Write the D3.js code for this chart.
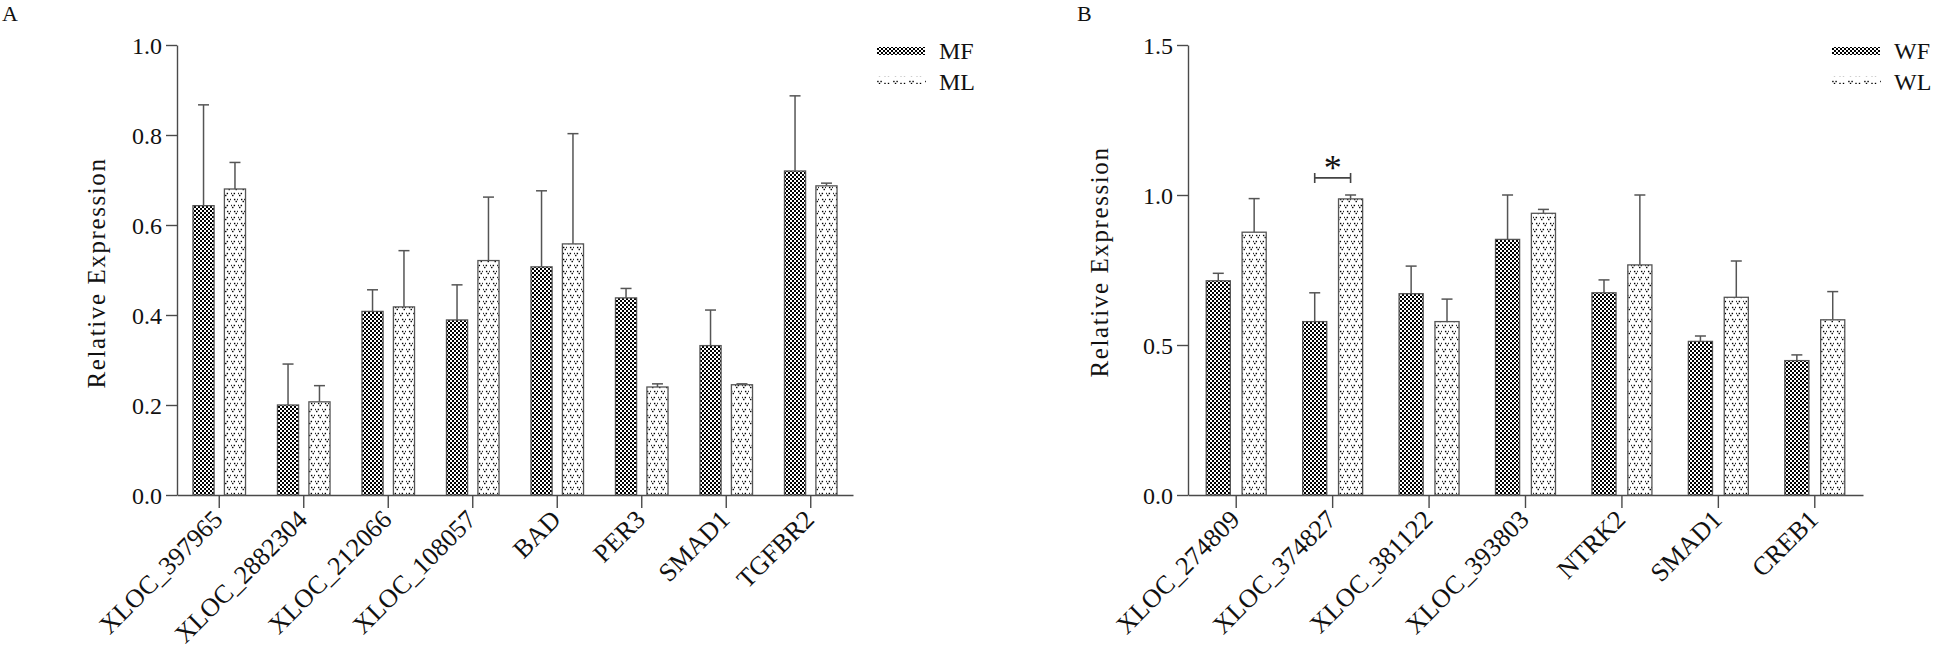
<!DOCTYPE html>
<html>
<head>
<meta charset="utf-8">
<script src="https://cdn.jsdelivr.net/npm/d3@7"></script>
<style>
  html, body { margin: 0; padding: 0; background: #fff; }
  svg text { font-family: "Liberation Serif", "DejaVu Serif", serif; fill: #111; }
</style>
</head>
<body>
<svg id="chart" width="1946" height="652"></svg>
<script>
// panel A data
const genesA = ["XLOC_397965", "XLOC_2882304", "XLOC_212066", "XLOC_108057", "BAD", "PER3", "SMAD1", "TGFBR2"];
const mfA = [0.643, 0.200, 0.408, 0.389, 0.507, 0.438, 0.332, 0.720];
const mfErrA = [0.224, 0.091, 0.048, 0.078, 0.169, 0.021, 0.079, 0.167];
const mlA = [0.680, 0.207, 0.418, 0.521, 0.558, 0.240, 0.245, 0.687];
const mlErrA = [0.059, 0.036, 0.125, 0.141, 0.245, 0.007, 0.002, 0.006];
const seriesA = ["MF", "ML"];
const ticksA = [0, 0.2, 0.4, 0.6, 0.8, 1.0];

// panel B data
const genesB = ["XLOC_274809", "XLOC_374827", "XLOC_381122", "XLOC_393803", "NTRK2", "SMAD1", "CREB1"];
const wfB = [0.714, 0.578, 0.671, 0.852, 0.674, 0.512, 0.448];
const wfErrB = [0.025, 0.096, 0.092, 0.148, 0.043, 0.018, 0.019];
const wlB = [0.876, 0.987, 0.578, 0.939, 0.767, 0.659, 0.584];
const wlErrB = [0.112, 0.013, 0.075, 0.013, 0.233, 0.121, 0.094];
const seriesB = ["WF", "WL"];
const ticksB = [0, 0.5, 1.0, 1.5];
const sigB = [{ gene: "XLOC_374827", level: 1.057, label: "*" }];

const svg = d3.select("#chart");
const axisColor = "#4a4a4a";
const serif = "Liberation Serif";

// fill patterns
const defs = svg.append("defs");
const checker = defs.append("pattern").attr("id", "checker")
  .attr("patternUnits", "userSpaceOnUse").attr("width", 4).attr("height", 4);
checker.append("rect").attr("width", 4).attr("height", 4).attr("fill", "#fff");
checker.append("rect").attr("width", 2).attr("height", 2).attr("fill", "#000");
checker.append("rect").attr("x", 2).attr("y", 2).attr("width", 2).attr("height", 2).attr("fill", "#000");

// little "v" marks, staggered rows
const vee = defs.append("pattern").attr("id", "vee")
  .attr("patternUnits", "userSpaceOnUse").attr("width", 7).attr("height", 12);
vee.append("rect").attr("width", 7).attr("height", 12).attr("fill", "#fff");
const veeDots = [[-1.6, -1], [1.6, -1], [0, 1]];
[[1.75, 2.5], [5.25, 8.5]].forEach(([cx, cy]) => {
  veeDots.forEach(([dx, dy]) => {
    vee.append("rect").attr("x", cx + dx - 0.7).attr("y", cy + dy - 0.7)
      .attr("width", 1.4).attr("height", 1.4).attr("fill", "#000");
  });
});

// legend strip for the v series
const veeLine = defs.append("pattern").attr("id", "veeLine")
  .attr("patternUnits", "userSpaceOnUse").attr("width", 16).attr("height", 8);
veeDots.forEach(([dx, dy]) => {
  veeLine.append("rect").attr("x", 2.5 + dx - 0.7).attr("y", 2.5 + dy - 0.7)
    .attr("width", 1.4).attr("height", 1.4).attr("fill", "#000");
});
[8, 11.5].forEach(dx => {
  veeLine.append("rect").attr("x", dx - 0.7).attr("y", 3.5 - 0.7)
    .attr("width", 1.4).attr("height", 1.4).attr("fill", "#000");
});

function panel(opt) {
  const g = svg.append("g");
  const x = d3.scaleBand().domain(opt.genes).range(opt.xRange).paddingInner(0).paddingOuter(0);
  const y = d3.scaleLinear().domain(opt.yDomain).range([495, 45]);
  const bw = x.bandwidth();
  const off = d3.scalePoint().domain(opt.series).range([-0.186 * bw, 0.186 * bw]);
  const barW = 0.25 * bw;
  const fills = ["url(#checker)", "url(#vee)"];

  // y axis
  const ya = g.append("g").attr("transform", `translate(${opt.xRange[0]},0)`)
    .call(d3.axisLeft(y).tickValues(opt.yTicks).tickFormat(d3.format(".1f")).tickSize(11).tickSizeOuter(0).tickPadding(4));
  ya.attr("font-family", serif);
  ya.selectAll("path, line").attr("stroke", axisColor).attr("stroke-width", 1.4);
  ya.selectAll("text").attr("font-size", 24).attr("fill", "#111").attr("dy", "0.36em");

  // x axis
  const xa = g.append("g").attr("transform", "translate(0,495)")
    .call(d3.axisBottom(x).tickSize(13).tickSizeOuter(0).tickFormat(""));
  xa.selectAll("path, line").attr("stroke", axisColor).attr("stroke-width", 1.4);

  g.selectAll(".xlab").data(opt.genes).join("text")
    .attr("class", "xlab")
    .attr("transform", d => `translate(${x(d) + bw / 2 + 5},${521}) rotate(-45)`)
    .attr("text-anchor", "end")
    .attr("font-size", 26)
    .text(d => d);

  // bars + error bars
  opt.series.forEach((s, si) => {
    const vals = opt.values[si], errs = opt.errors[si];
    const cx = i => x(opt.genes[i]) + bw / 2 + off(s);
    const sg = g.append("g");
    sg.selectAll("line.err").data(vals).join("line")
      .attr("x1", (d, i) => cx(i)).attr("x2", (d, i) => cx(i))
      .attr("y1", d => y(d)).attr("y2", (d, i) => y(d + errs[i]))
      .attr("stroke", "#555").attr("stroke-width", 1.5);
    sg.selectAll("line.cap").data(vals).join("line")
      .attr("x1", (d, i) => cx(i) - 5.5).attr("x2", (d, i) => cx(i) + 5.5)
      .attr("y1", (d, i) => y(d + errs[i])).attr("y2", (d, i) => y(d + errs[i]))
      .attr("stroke", "#555").attr("stroke-width", 1.5);
    sg.selectAll("rect").data(vals).join("rect")
      .attr("x", (d, i) => cx(i) - barW / 2)
      .attr("y", d => y(d))
      .attr("width", barW)
      .attr("height", d => y(0) - y(d))
      .attr("fill", fills[si])
      .attr("stroke", "#555").attr("stroke-width", 1.3);
  });

  // y axis title
  g.append("text")
    .attr("transform", `translate(${opt.titleX},${opt.titleY}) rotate(-90)`)
    .attr("text-anchor", "middle")
    .attr("font-size", 25)
    .attr("letter-spacing", 1.6)
    .text("Relative Expression");

  // panel letter
  g.append("text").attr("x", opt.letterX).attr("y", 21).attr("font-size", 22).text(opt.letter);

  // legend
  const lg = g.append("g").attr("transform", `translate(${opt.legendX},0)`);
  lg.append("rect").attr("x", 0).attr("y", 47).attr("width", 48).attr("height", 8)
    .attr("fill", "url(#checker)");
  lg.append("rect").attr("x", 0).attr("y", 76).attr("width", 49).attr("height", 8)
    .attr("fill", "url(#veeLine)");
  opt.series.forEach((s, si) => {
    lg.append("text").attr("x", 62).attr("y", 59 + si * 31).attr("font-size", 24).text(s);
  });

  // significance brackets
  (opt.sig || []).forEach(sv => {
    const x1 = x(sv.gene) + bw / 2 + off(opt.series[0]);
    const x2 = x(sv.gene) + bw / 2 + off(opt.series[1]);
    const yy = y(sv.level);
    g.append("path")
      .attr("d", `M${x1},${yy - 5}V${yy + 5}M${x1},${yy}H${x2}M${x2},${yy - 5}V${yy + 5}`)
      .attr("stroke", "#444").attr("stroke-width", 1.6).attr("fill", "none");
    g.append("text").attr("x", (x1 + x2) / 2).attr("y", yy + 2)
      .attr("text-anchor", "middle").attr("font-size", 36).text(sv.label);
  });
}

panel({
  genes: genesA, series: seriesA, values: [mfA, mlA], errors: [mfErrA, mlErrA],
  xRange: [177, 853], yDomain: [0, 1.0], yTicks: ticksA,
  titleX: 105, titleY: 273, letter: "A", letterX: 2, legendX: 877
});

panel({
  genes: genesB, series: seriesB, values: [wfB, wlB], errors: [wfErrB, wlErrB],
  xRange: [1188, 1863], yDomain: [0, 1.5], yTicks: ticksB,
  titleX: 1108, titleY: 262, letter: "B", letterX: 1077, legendX: 1832, sig: sigB
});
</script>
</body>
</html>
